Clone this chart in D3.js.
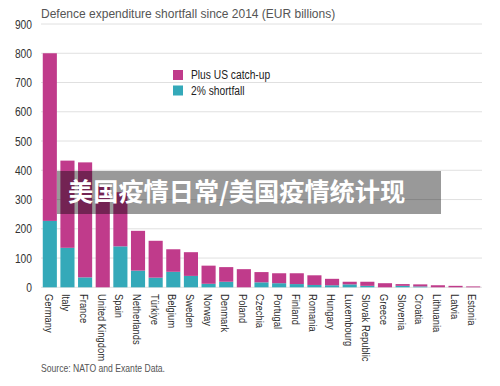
<!DOCTYPE html>
<html>
<head>
<meta charset="utf-8">
<script src="https://cdn.jsdelivr.net/npm/d3@7"></script>
<style>
html,body{margin:0;padding:0;background:#fff;}
svg{display:block;}
</style>
</head>
<body>
<svg id="chart" width="500" height="386"></svg>
<script>
const countries = ["Germany","Italy","France","United Kingdom","Spain","Netherlands","Türkiye","Belgium","Sweden","Norway","Denmark","Poland","Czechia","Portugal","Finland","Romania","Hungary","Luxembourg","Slovak Republic","Greece","Slovenia","Croatia","Lithuania","Latvia","Estonia"];
const shortfall2 = [227,135,34,0,140,57,33,53,39,12,19,0,17,14,11,8,7,10,5,0,5,3,0,0,0];
const totals =     [800,433,427,345,325,193,159,130,120,74,69,62,52,48,48,41,29,19,19,14,11,10,7,5,3];
const usCatchUp = totals.map((t,i)=>t - shortfall2[i]);
const yTicks = [0,100,200,300,400,500,600,700,800,900];
const seriesNames = ["Plus US catch-up","2% shortfall"];
const colors = ["#c03b8b","#34a9b9"];

const svg = d3.select("#chart");
const font = "'Liberation Sans', Arial, sans-serif";
const squeeze = 0.82;
const x = d3.scaleBand().domain(countries).range([41,482]).paddingInner(0.2).paddingOuter(0.1);
const y = d3.scaleLinear().domain([0,900]).range([287.3,24]);

// gridlines
svg.append("g").selectAll("line").data(yTicks).join("line")
  .attr("x1",41).attr("x2",482)
  .attr("y1",d=>y(d)).attr("y2",d=>y(d))
  .attr("stroke","#e0e0e0").attr("stroke-width",1);

// y axis labels
const yAxis = d3.axisLeft(y).tickValues(yTicks).tickSize(0).tickPadding(0);
const gy = svg.append("g").attr("transform","translate(32,0)").call(yAxis);
gy.select(".domain").remove();
gy.selectAll("text").attr("font-family",font).attr("font-size",12.5).attr("fill","#333")
  .attr("x",0).attr("transform",`scale(${squeeze},1)`);

// bars
const rows = countries.map((c,i)=>({c, s:shortfall2[i], u:usCatchUp[i]}));
const stack = d3.stack().keys(["s","u"])(rows);
const barG = svg.append("g");
stack.forEach((layer,li)=>{
  barG.append("g").attr("fill", li===0?colors[1]:colors[0])
    .selectAll("rect").data(layer).join("rect")
    .attr("x",d=>x(d.data.c)).attr("width",x.bandwidth())
    .attr("y",d=>y(d[1])).attr("height",d=>Math.max(0,y(d[0])-y(d[1])));
});

// x labels
const xAxis = d3.axisBottom(x).tickSize(0).tickPadding(0);
const gx = svg.append("g").attr("transform","translate(-1,294)").call(xAxis);
gx.select(".domain").remove();
gx.selectAll("text")
  .attr("font-family",font).attr("font-size",11.5).attr("fill","#2a2a2a")
  .attr("transform",`rotate(90) scale(${squeeze},1)`).attr("text-anchor","start")
  .attr("x",0).attr("y",0).attr("dx",0).attr("dy","0.35em");

// title
svg.append("text").attr("transform",`translate(41,18) scale(0.89,1)`)
  .attr("font-family",font).attr("font-size",13.5).attr("fill","#555")
  .text("Defence expenditure shortfall since 2014 (EUR billions)");

// legend
const leg = svg.append("g").attr("transform","translate(173,70)");
seriesNames.forEach((n,i)=>{
  leg.append("rect").attr("x",0).attr("y",i*15.5).attr("width",10).attr("height",10).attr("fill",colors[i]);
  leg.append("text").attr("transform",`translate(18,${i*15.5+5}) scale(${squeeze},1)`).attr("dy","0.35em")
    .attr("font-family",font).attr("font-size",12.5).attr("fill","#222").text(n);
});

// source
svg.append("text").attr("transform",`translate(41,372) scale(${squeeze},1)`)
  .attr("font-family",font).attr("font-size",10.5).attr("fill","#555")
  .text("Source: NATO and Exante Data.");

// overlay banner
svg.append("rect").attr("x",57).attr("y",171).attr("width",384).attr("height",43)
  .attr("fill","rgba(0,0,0,0.4)");
svg.append("text").attr("x",68).attr("y",192).attr("dy","0.36em")
  .attr("font-family","'Noto Sans CJK SC', sans-serif").attr("font-weight","bold")
  .attr("font-size",25.2).attr("fill","#fff")
  .text("美国疫情日常/美国疫情统计现");
</script>
</body>
</html>
